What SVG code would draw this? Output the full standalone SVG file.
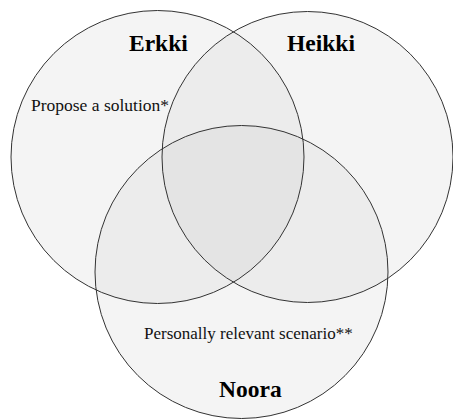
<svg xmlns="http://www.w3.org/2000/svg" width="453" height="419" viewBox="0 0 453 419">
  <defs>
    <clipPath id="clipE"><circle cx="157.5" cy="157" r="146.5"/></clipPath>
    <clipPath id="clipH"><circle cx="307.5" cy="157" r="145.5"/></clipPath>
  </defs>
  <style>
    .set { fill: #f4f4f4; }
    .pair { fill: #ececec; }
    .all { fill: #e4e4e4; }
    .ring { fill: none; stroke: #333; stroke-width: 1; }
    text { font-family: 'Liberation Serif', 'Tinos', 'DejaVu Serif', serif; }
    .name { font-weight: bold; font-size: 23.5px; fill: #000; }
    .note { font-size: 17px; fill: #111; }
  </style>
  <rect width="453" height="419" fill="#fff"/>

  <!-- base fills -->
  <g id="fills">
    <circle class="set" cx="157.5" cy="157" r="146.5"/>
    <circle class="set" cx="307.5" cy="157" r="145.5"/>
    <circle class="set" cx="241.5" cy="272" r="146.5"/>
    <!-- pairwise overlaps -->
    <g clip-path="url(#clipE)">
      <circle class="pair" cx="307.5" cy="157" r="145.5"/>
      <circle class="pair" cx="241.5" cy="272" r="146.5"/>
    </g>
    <g clip-path="url(#clipH)">
      <circle class="pair" cx="241.5" cy="272" r="146.5"/>
    </g>
    <!-- common overlap -->
    <g clip-path="url(#clipE)">
      <g clip-path="url(#clipH)">
        <circle class="all" cx="241.5" cy="272" r="146.5"/>
      </g>
    </g>
  </g>

  <g id="erkki">
    <circle class="ring" cx="157.5" cy="157" r="146.5"/>
    <text class="name" x="129" y="51">Erkki</text>
    <text class="note" x="31" y="111" style="font-size:17.5px">Propose a solution*</text>
  </g>
  <g id="heikki">
    <circle class="ring" cx="307.5" cy="157" r="145.5"/>
    <text class="name" x="287" y="51">Heikki</text>
  </g>
  <g id="noora">
    <circle class="ring" cx="241.5" cy="272" r="146.5"/>
    <text class="note" x="144" y="339">Personally relevant scenario**</text>
    <text class="name" x="219" y="397">Noora</text>
  </g>
  <g id="connectors"/>
</svg>
